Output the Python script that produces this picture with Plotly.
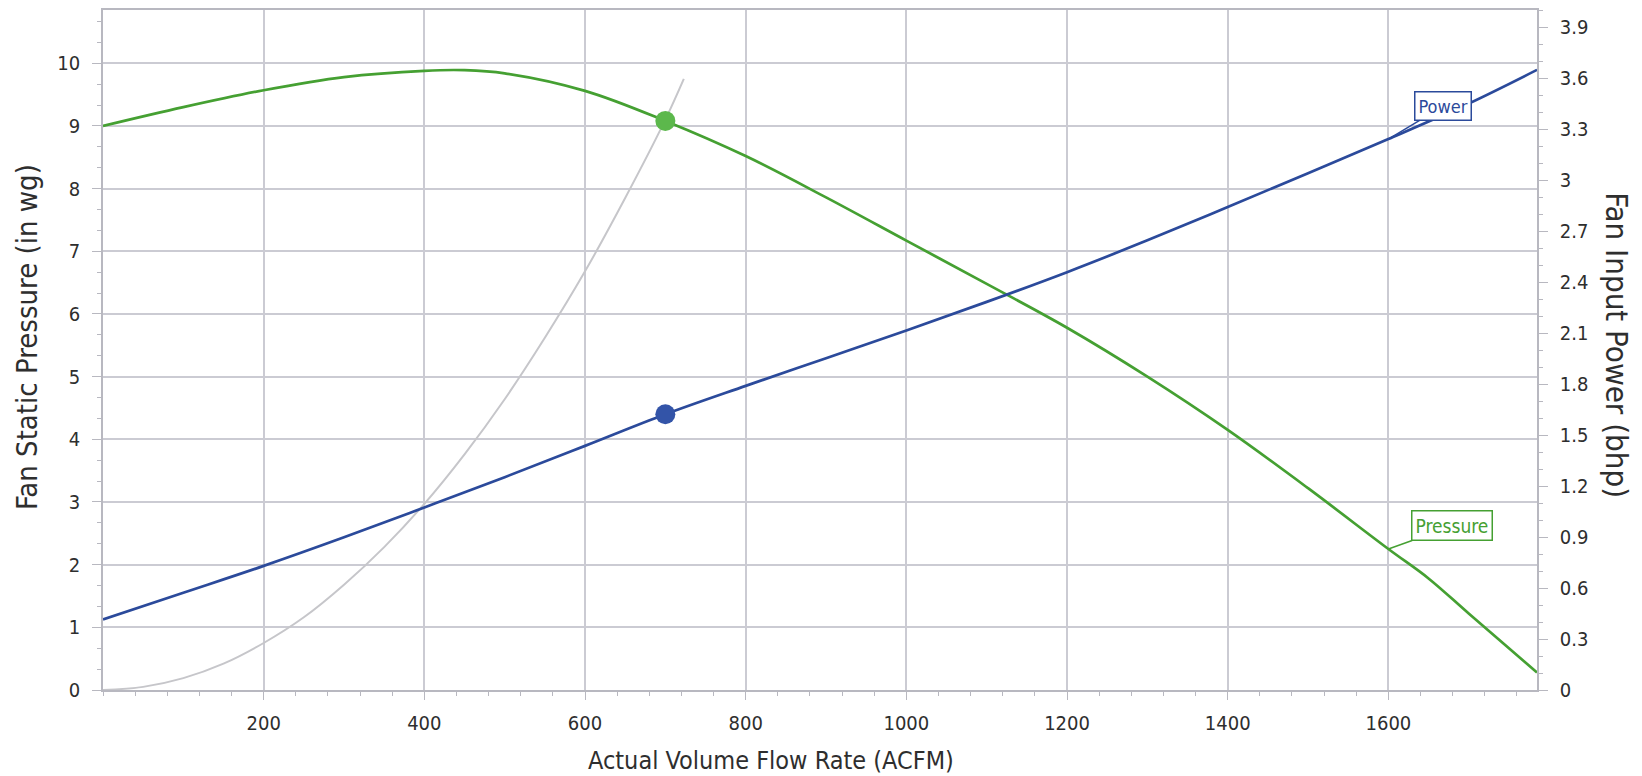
import plotly.graph_objects as go

# ---------------- data ----------------
flow_pressure = [0, 100, 200, 300, 400, 450, 500, 600, 700, 800, 900, 1000,
                 1100, 1200, 1300, 1400, 1500, 1600, 1650, 1700, 1785]
pressure = [9.0, 9.3, 9.57, 9.78, 9.88, 9.89, 9.84, 9.56, 9.08, 8.52, 7.86, 7.17,
            6.48, 5.78, 5.0, 4.15, 3.22, 2.25, 1.78, 1.22, 0.28]

flow_power = [0, 100, 200, 300, 400, 500, 600, 700, 800, 900, 1000, 1100,
              1200, 1300, 1400, 1500, 1600, 1700, 1785]
power = [0.415, 0.572, 0.73, 0.898, 1.074, 1.252, 1.436, 1.622, 1.789, 1.952, 2.115, 2.283,
         2.458, 2.645, 2.841, 3.04, 3.241, 3.45, 3.648]

flow_system = [0, 50, 100, 150, 200, 250, 300, 350, 400, 450, 500, 550,
               600, 650, 700, 723]
system = [0.0, 0.05, 0.19, 0.42, 0.75, 1.16, 1.68, 2.28, 2.97, 3.76, 4.64, 5.62,
          6.68, 7.85, 9.1, 9.75]

op_flow = [700]
op_pressure = [9.08]
op_power = [1.622]

x_ticks = [200, 400, 600, 800, 1000, 1200, 1400, 1600]
y_ticks = [0, 1, 2, 3, 4, 5, 6, 7, 8, 9, 10]
y2_ticks = [0, 0.3, 0.6, 0.9, 1.2, 1.5, 1.8, 2.1, 2.4, 2.7, 3, 3.3, 3.6, 3.9]
y2_labels = ["0", "0.3", "0.6", "0.9", "1.2", "1.5", "1.8", "2.1", "2.4", "2.7",
             "3", "3.3", "3.6", "3.9"]

label_flow = 1600

# ---------------- styles ----------------
FONT = "DejaVu Sans Condensed, DejaVu Sans, sans-serif"
GREEN = "#45a032"
GREEN_M = "#5cb84c"
BLUE = "#2b4a9b"
BLUE_M = "#3354a8"
GRAY = "#c6c6ca"
GRID = "#cbcbd3"
AXIS = "#b8b8c0"
TXT = "#2e2e2e"

fig = go.Figure()

fig.add_trace(go.Scatter(x=flow_system, y=system, mode="lines",
                         line=dict(color=GRAY, width=2, shape="spline"),
                         yaxis="y", hoverinfo="skip", showlegend=False))
fig.add_trace(go.Scatter(x=flow_pressure, y=pressure, mode="lines",
                         line=dict(color=GREEN, width=2.7, shape="spline"),
                         yaxis="y", name="Pressure", showlegend=False))
fig.add_trace(go.Scatter(x=flow_power, y=power, mode="lines",
                         line=dict(color=BLUE, width=2.7, shape="spline"),
                         yaxis="y2", name="Power", showlegend=False))
fig.add_trace(go.Scatter(x=op_flow, y=op_pressure, mode="markers",
                         marker=dict(color=GREEN_M, size=20),
                         yaxis="y", showlegend=False))
fig.add_trace(go.Scatter(x=op_flow, y=op_power, mode="markers",
                         marker=dict(color=BLUE_M, size=20),
                         yaxis="y2", showlegend=False))

i_pow = flow_power.index(label_flow)
i_pre = flow_pressure.index(label_flow)

annotations = [
    dict(x=label_flow, y=power[i_pow], xref="x", yref="y2", text="Power",
         showarrow=True, arrowhead=0, arrowwidth=1.5, arrowcolor=BLUE,
         ax=55, ay=-33, font=dict(family=FONT, size=18, color=BLUE),
         bordercolor=BLUE, borderwidth=1.5, borderpad=3, bgcolor="white"),
    dict(x=label_flow, y=pressure[i_pre], xref="x", yref="y", text="Pressure",
         showarrow=True, arrowhead=0, arrowwidth=1.5, arrowcolor=GREEN,
         ax=64, ay=-23, font=dict(family=FONT, size=19, color=GREEN),
         bordercolor=GREEN, borderwidth=1.5, borderpad=3, bgcolor="white"),
    dict(text="Actual Volume Flow Rate (ACFM)", xref="paper", yref="paper",
         x=0.466, y=-0.103, xanchor="center", yanchor="middle", showarrow=False,
         font=dict(family=FONT, size=25, color=TXT)),
    dict(text="Fan Static Pressure (in wg)", xref="paper", yref="paper",
         x=-0.053, y=0.519, xanchor="center", yanchor="middle", showarrow=False,
         textangle=-90, font=dict(family=FONT, size=29, color=TXT)),
    dict(text="Fan Input Power (bhp)", xref="paper", yref="paper",
         x=1.0558, y=0.507, xanchor="center", yanchor="middle", showarrow=False,
         textangle=90, font=dict(family=FONT, size=31, color=TXT)),
]

fig.update_layout(
    width=1642, height=776,
    margin=dict(l=103, r=105, t=8, b=86),
    paper_bgcolor="white", plot_bgcolor="white",
    font=dict(family=FONT, size=20, color=TXT),
    annotations=annotations,
    xaxis=dict(range=[0, 1785], tickvals=x_ticks, ticks="outside", ticklen=8,
               tickcolor=AXIS, tickwidth=1.2, showline=True, linecolor=AXIS,
               linewidth=1.5, mirror=True, showgrid=True, gridcolor=GRID,
               gridwidth=1.5, zeroline=False, ticklabelstandoff=6,
               minor=dict(dtick=40, tick0=0, ticks="outside", ticklen=4,
                          tickcolor=AXIS, showgrid=False)),
    yaxis=dict(range=[0, 10.85], tickvals=y_ticks, ticks="outside", ticklen=9,
               tickcolor=AXIS, tickwidth=1.2, showline=True, linecolor=AXIS,
               linewidth=1.5, mirror=True, showgrid=True, gridcolor=GRID,
               gridwidth=1.5, zeroline=False, ticklabelstandoff=8,
               minor=dict(dtick=1/3, tick0=0, ticks="outside", ticklen=4,
                          tickcolor=AXIS, showgrid=False)),
    yaxis2=dict(range=[0, 4.0], tickvals=y2_ticks, ticktext=y2_labels,
                overlaying="y", side="right", ticks="outside", ticklen=9,
                tickcolor=AXIS, tickwidth=1.2, showline=True, linecolor=AXIS,
                linewidth=1.5, showgrid=False, zeroline=False,
                ticklabelstandoff=8,
                minor=dict(dtick=0.1, tick0=0, ticks="outside", ticklen=4,
                           tickcolor=AXIS, showgrid=False)),
)

fig.write_html("out.html", config={"displayModeBar": False},
               post_script="document.body.style.margin='0';document.body.style.overflow='hidden';")
